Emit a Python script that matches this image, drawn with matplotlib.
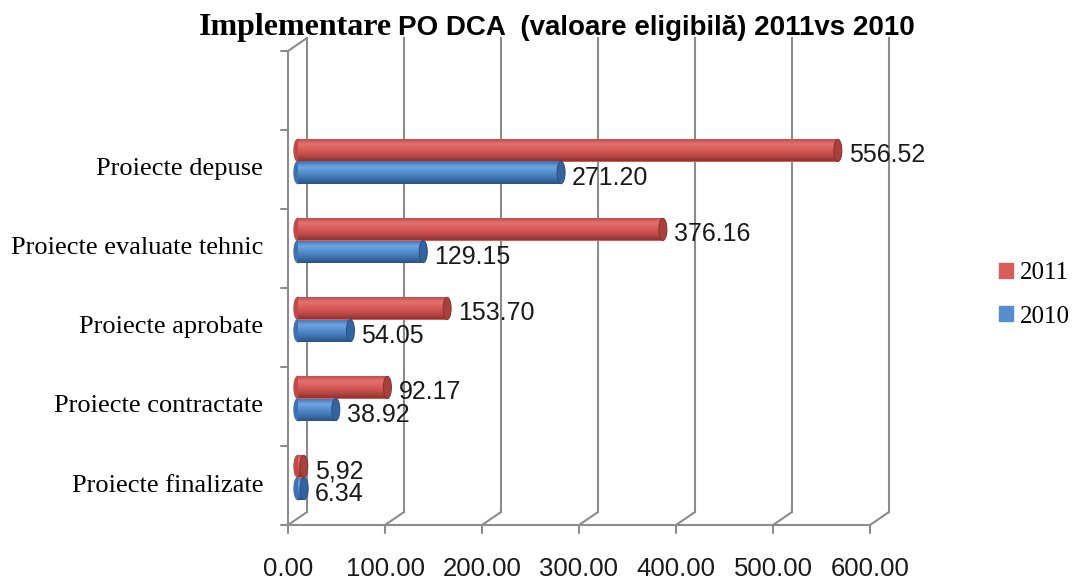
"""Implementare PO DCA (valoare eligibila) 2011 vs 2010 -- Excel-style 3D cylinder bars."""
import numpy as np
import matplotlib
matplotlib.use("Agg")
import matplotlib.pyplot as plt
import matplotlib.transforms as mtransforms
from matplotlib.colors import LinearSegmentedColormap
from matplotlib.patches import Ellipse, Patch, ConnectionPatch

# ---------------------------------------------------------------- data (top -> bottom)
CATEGORIES = ["Proiecte depuse", "Proiecte evaluate tehnic", "Proiecte aprobate",
              "Proiecte contractate", "Proiecte finalizate"]
VAL_2011 = [556.52, 376.16, 153.70, 92.17, 5.92]
VAL_2010 = [271.20, 129.15, 54.05, 38.92, 6.34]
LBL_2011 = ["556.52", "376.16", "153.70", "92.17", "5,92"]
LBL_2010 = ["271.20", "129.15", "54.05", "38.92", "6.34"]
XTICKS = [0, 100, 200, 300, 400, 500, 600]
N_SLOTS = 6          # Excel left one empty slot above the categories

GRID = "#8c8c8c"
RED_GRAD = ["#b54846", "#e5716e", "#d85d5a", "#bf4a47", "#8f3331"]
BLUE_GRAD = ["#3e70ad", "#6ea4e2", "#568dcc", "#3f72b0", "#2a5388"]
RED_CAP, BLUE_CAP = "#a8403e", "#34649f"
SERIF, SANS = "Liberation Serif", "Liberation Sans"

W, H, DPI = 1073, 579, 100
fig = plt.figure(figsize=(W / DPI, H / DPI), dpi=DPI)
# front plane of the 3D box (floor edge + left wall edge)
ax = fig.add_axes([288 / W, 54 / H, 582 / W, 474 / H])
ax.set_xlim(0, 600)
ax.set_ylim(0, N_SLOTS)
ax.axis("off")


def shifted(px, py):
    return ax.transData + mtransforms.ScaledTranslation(px / DPI, py / DPI, fig.dpi_scale_trans)


back = shifted(19, 13)   # back wall
mid = shifted(10, 8)     # plane the cylinders sit in

# ---------------------------------------------------------------- box
lk = dict(color=GRID, lw=1.5, clip_on=False)
for v in XTICKS:
    ax.plot([v, v], [0, N_SLOTS], transform=back, **lk)
    ax.add_artist(ConnectionPatch((v, 0), (v, 0), coordsA=ax.transData, coordsB=back, **lk))
ax.add_artist(ConnectionPatch((0, N_SLOTS), (0, N_SLOTS), coordsA=ax.transData,
                              coordsB=back, **lk))
ax.plot([0, 0], [0, N_SLOTS], **lk)
ax.plot([-6, 600], [0, 0], **lk)
for v in XTICKS:
    ax.annotate("", xy=(v, 0), xytext=(0, -8), textcoords="offset pixels",
                arrowprops=dict(arrowstyle="-", color=GRID, lw=1.5, shrinkA=0, shrinkB=0))
    ax.annotate(f"{v:.2f}", xy=(v, 0), xytext=(0, -44), textcoords="offset pixels",
                ha="center", va="center", fontsize=18.5, family=SANS, color="#1a1a1a")
for k in range(N_SLOTS + 1):
    ax.annotate("", xy=(0, k), xytext=(-7, 0), textcoords="offset pixels",
                arrowprops=dict(arrowstyle="-", color=GRID, lw=1.5, shrinkA=0, shrinkB=0))

# ---------------------------------------------------------------- cylinders
ypos = np.arange(len(CATEGORIES))[::-1] + 0.5
h = 0.28
cap_w = 8.2


def cylinders(vals, yc, grad, cap):
    cmap = LinearSegmentedColormap.from_list("g", grad)
    body = ax.barh(yc, vals, height=h, left=0, color=grad[2], lw=0, transform=mid,
                   clip_on=False, zorder=3)
    for rect, v, y in zip(body, vals, yc):
        ax.add_patch(Ellipse((0, y), cap_w, h, color=grad[3], transform=mid,
                             clip_on=False, zorder=2.9))
        im = ax.imshow(np.linspace(0, 1, 64)[:, None], cmap=cmap, aspect="auto",
                       extent=(0, v, y - h / 2, y + h / 2), transform=mid,
                       interpolation="bilinear", zorder=3.1)
        im.set_clip_path(rect)
        ax.add_patch(Ellipse((v, y), cap_w, h, facecolor=cap, edgecolor=grad[4], lw=0.8,
                             transform=mid, clip_on=False, zorder=3.2))


cylinders(VAL_2011, ypos + h / 2, RED_GRAD, RED_CAP)
cylinders(VAL_2010, ypos - h / 2, BLUE_GRAD, BLUE_CAP)
ax.set_xlim(0, 600)
ax.set_ylim(0, N_SLOTS)

for vals, labels, yc in ((VAL_2011, LBL_2011, ypos + h / 2), (VAL_2010, LBL_2010, ypos - h / 2)):
    for v, s, y in zip(vals, labels, yc):
        ax.annotate(s, xy=(v, y), xycoords=mid, xytext=(11, -5), textcoords="offset pixels",
                    ha="left", va="center", fontsize=18, family=SANS, color="#1a1a1a")

for c, y in zip(CATEGORIES, ypos):
    ax.annotate(c, xy=(0, y), xytext=(-25, 0), textcoords="offset pixels",
                ha="right", va="center", fontsize=19, family=SERIF, color="black")

# ---------------------------------------------------------------- legend + title
fig.legend(handles=[Patch(color=RED_GRAD[2], label="2011"), Patch(color=BLUE_GRAD[2], label="2010")],
           loc="center left", bbox_to_anchor=(999 / W, 1 - 295 / H), frameon=False,
           prop=dict(family=SERIF, size=18), handlelength=0.55, handleheight=0.55,
           handletextpad=0.3, labelspacing=0.85, borderpad=0, borderaxespad=0)

fig.text(392 / W, 1 - 35 / H, "Implementare", ha="right", va="baseline",
         fontsize=23, fontweight="bold", family=SERIF)
fig.text(398 / W, 1 - 35 / H, "PO DCA  (valoare eligibilă) 2011vs 2010", ha="left",
         va="baseline", fontsize=20, fontweight="bold", family=SANS)

fig.savefig("out.png", dpi=DPI)
